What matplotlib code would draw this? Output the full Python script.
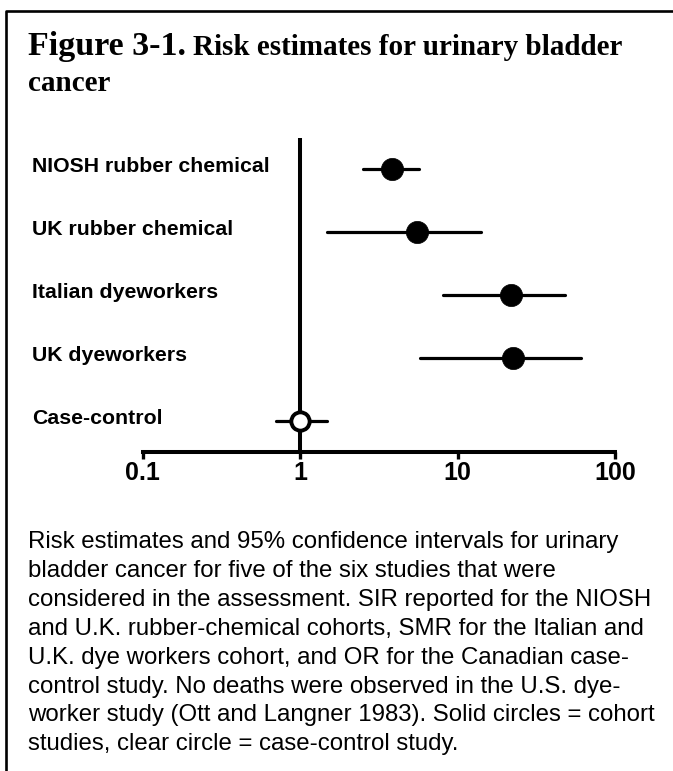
import matplotlib
matplotlib.use("Agg")
import matplotlib.pyplot as plt
from matplotlib.lines import Line2D

# study rows, top to bottom
studies = ["NIOSH rubber chemical", "UK rubber chemical", "Italian dyeworkers",
           "UK dyeworkers", "Case-control"]
estimate = [3.85, 5.5, 22.0, 22.5, 1.0]
ci_low = [2.5, 1.48, 8.1, 5.75, 0.70]
ci_high = [5.7, 14.2, 48.0, 61.0, 1.48]
cohort = [True, True, True, True, False]

tick_vals = [0.1, 1, 10, 100]
tick_labels = ["0.1", "1", "10", "100"]

caption = [
    "Risk estimates and 95% confidence intervals for urinary",
    "bladder cancer for five of the six studies that were",
    "considered in the assessment. SIR reported for the NIOSH",
    "and U.K. rubber-chemical cohorts, SMR for the Italian and",
    "U.K. dye workers cohort, and OR for the Canadian case-",
    "control study. No deaths were observed in the U.S. dye-",
    "worker study (Ott and Langner 1983). Solid circles = cohort",
    "studies, clear circle = case-control study.",
]

W, H = 673, 771
plt.rcParams['font.family'] = ['Liberation Sans', 'DejaVu Sans']

fig = plt.figure(figsize=(W / 100, H / 100), dpi=100)
fig.patch.set_facecolor('white')

# plot area in pixels: x 142.5..615, y 138..451.7 (from top)
ax = fig.add_axes([142.5 / W, 1 - 451.7 / H, 472.5 / W, (451.7 - 138) / H])
ax.set_xscale('log')
ax.set_xlim(0.1, 100)
ax.set_ylim(len(studies) - 0.51, -0.49)

ax.axvline(1, color='black', lw=2.9, zorder=1)

for i in range(len(studies)):
    ax.plot([ci_low[i], ci_high[i]], [i, i], color='black', lw=2.3,
            solid_capstyle='round', zorder=2)
    if cohort[i]:
        ax.plot(estimate[i], i, 'o', ms=16, mfc='black', mec='black', mew=0.5, zorder=3)
    else:
        ax.plot(estimate[i], i, 'o', ms=13.2, mfc='white', mec='black', mew=2.8, zorder=3)
    ax.annotate(studies[i], xy=(32 / W, i), xycoords=('figure fraction', 'data'),
                xytext=(0, -2.2), textcoords='offset points', va='baseline', ha='left',
                fontsize=15.3, fontweight='bold')

for s in ['top', 'left', 'right']:
    ax.spines[s].set_visible(False)
ax.spines['bottom'].set_linewidth(2.9)
ax.set_yticks([])
ax.set_xticks(tick_vals)
ax.set_xticklabels(tick_labels, fontsize=18, fontweight='bold')
ax.minorticks_off()
ax.tick_params(axis='x', direction='out', length=5, width=2.4, pad=2)
ax.patch.set_alpha(0)

# title: bigger "Figure 3-1." followed by the rest on the same baseline
fig.canvas.draw()
r = fig.canvas.get_renderer()
t1 = fig.text(28 / W, 1 - 55 / H, "Figure 3-1.", fontsize=24.5, fontweight='bold',
              family='Liberation Serif', va='baseline')
bb = t1.get_window_extent(renderer=r)
fig.text((bb.x1 + 7.3) / W, 1 - 55 / H, "Risk estimates for urinary bladder",
         fontsize=21, fontweight='bold', family='Liberation Serif', va='baseline')
fig.text(28 / W, 1 - 91 / H, "cancer", fontsize=21, fontweight='bold',
         family='Liberation Serif', va='baseline')

# caption lines
for k, line in enumerate(caption):
    fig.text(28 / W, 1 - (548 + 28.9 * k) / H, line, fontsize=17.3, va='baseline')

# frame (left and top edges only are visible in the crop)
fig.add_artist(Line2D([6 / W, 6 / W, 1.0], [0.0, 1 - 11 / H, 1 - 11 / H],
                      transform=fig.transFigure, color='black', lw=1.9))

fig.savefig("out.png", dpi=100)
